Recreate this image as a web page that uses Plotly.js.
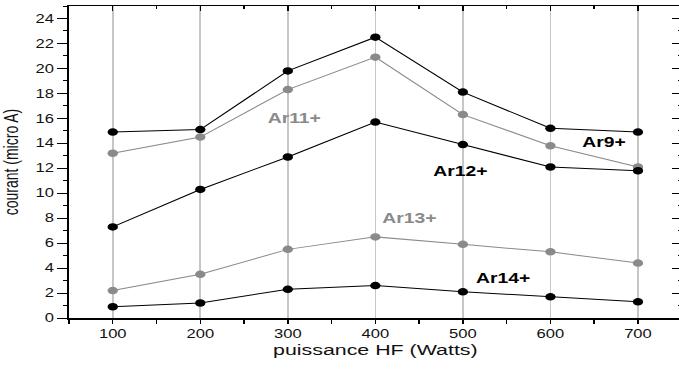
<!DOCTYPE html>
<html>
<head>
<meta charset="utf-8">
<script src="https://cdn.plot.ly/plotly-3.0.1.min.js"></script>
<style>
  html, body { margin: 0; padding: 0; overflow: hidden; background: #fff; }
  /* the chart is laid out narrow and widened horizontally as a whole */
  #chart { width: 506px; height: 370px; transform: scaleX(1.38); transform-origin: 0 0; }
</style>
</head>
<body>
<div id="chart"></div>
<script>
// HF power (W)
const puissance = [100, 200, 300, 400, 500, 600, 700];

// extracted current per charge state (micro A)
const ar9  = [14.9, 15.1, 19.8, 22.5, 18.1, 15.2, 14.9];
const ar11 = [13.2, 14.5, 18.3, 20.9, 16.3, 13.8, 12.1];
const ar12 = [7.3, 10.3, 12.9, 15.7, 13.9, 12.1, 11.8];
const ar13 = [2.2, 3.5, 5.5, 6.5, 5.9, 5.3, 4.4];
const ar14 = [0.9, 1.2, 2.3, 2.6, 2.1, 1.7, 1.3];

const seriesNames = ['Ar9+', 'Ar11+', 'Ar12+', 'Ar13+', 'Ar14+'];
const seriesValues = [ar9, ar11, ar12, ar13, ar14];

const BLACK = '#000000';
const GREY = '#8a8a8a';
const seriesColors = [BLACK, GREY, BLACK, GREY, BLACK];

const traces = seriesValues.map((vals, i) => ({
  type: 'scatter',
  mode: 'lines+markers',
  name: seriesNames[i],
  x: puissance,
  y: vals,
  line: { color: seriesColors[i], width: 1 },
  marker: { color: seriesColors[i], size: 7.5 },
  showlegend: false,
  hoverinfo: 'x+y+name'
}));

// carrier for the mirrored top / right frame axes
traces.push({
  type: 'scatter', mode: 'markers', x: [], y: [],
  xaxis: 'x2', yaxis: 'y2', showlegend: false, hoverinfo: 'skip'
});

const FONT = 'Liberation Sans, Arial, Helvetica, sans-serif';
const X_RANGE = [50, 750];
const Y_RANGE = [0, 25];

// series labels placed next to their curves
const labelSpots = [
  { text: 'Ar9+',  x: 661, y: 14.1, color: BLACK },
  { text: 'Ar11+', x: 307, y: 16.0, color: GREY },
  { text: 'Ar12+', x: 497, y: 11.8, color: BLACK },
  { text: 'Ar13+', x: 439, y: 8.0,  color: GREY },
  { text: 'Ar14+', x: 546, y: 3.2,  color: BLACK }
];

const layout = {
  width: 506,
  height: 370,
  margin: { l: 50, r: 12, t: 6, b: 52 },
  paper_bgcolor: '#ffffff',
  plot_bgcolor: '#ffffff',
  font: { family: FONT, color: '#000' },
  xaxis: {
    range: X_RANGE,
    tick0: 0, dtick: 100,
    ticks: 'outside', ticklen: 4, tickwidth: 1, tickcolor: '#000',
    minor: { dtick: 50, ticks: 'outside', ticklen: 4, tickwidth: 1, tickcolor: '#000', showgrid: false },
    showgrid: true, gridcolor: '#c6c6c6', gridwidth: 1.2,
    zeroline: false,
    showline: true, linecolor: '#000', linewidth: 1.5,
    tickfont: { family: FONT, size: 12, color: '#111' },
    title: { text: 'puissance HF (Watts)', font: { family: FONT, size: 15.5, color: '#111' }, standoff: 3 }
  },
  yaxis: {
    range: Y_RANGE,
    tick0: 0, dtick: 2,
    ticks: 'outside', ticklen: 7, tickwidth: 1, tickcolor: '#000',
    minor: { dtick: 1, ticks: 'outside', ticklen: 3, tickwidth: 1, tickcolor: '#000', showgrid: false },
    showgrid: false, zeroline: false,
    showline: true, linecolor: '#000', linewidth: 1.5,
    tickfont: { family: FONT, size: 12, color: '#111' },
    title: { text: 'courant (micro A)', font: { family: FONT, size: 14, color: '#111' }, standoff: 10 }
  },
  xaxis2: {
    overlaying: 'x', side: 'top', anchor: 'y2',
    range: X_RANGE, tick0: 0, dtick: 100,
    ticks: 'inside', ticklen: 5, tickwidth: 1, tickcolor: '#000',
    minor: { dtick: 50, ticks: 'inside', ticklen: 3, tickwidth: 1, tickcolor: '#000', showgrid: false },
    showticklabels: false, showgrid: false, zeroline: false,
    showline: true, linecolor: '#000', linewidth: 1.5
  },
  yaxis2: {
    overlaying: 'y', side: 'right', anchor: 'x2',
    range: Y_RANGE, tick0: 0, dtick: 2,
    ticks: 'inside', ticklen: 7, tickwidth: 1, tickcolor: '#000',
    minor: { dtick: 1, ticks: 'inside', ticklen: 3, tickwidth: 1, tickcolor: '#000', showgrid: false },
    showticklabels: false, showgrid: false, zeroline: false,
    showline: true, linecolor: '#000', linewidth: 1.5
  },
  annotations: labelSpots.map(s => ({
    x: s.x, y: s.y, xref: 'x', yref: 'y',
    text: '<b>' + s.text + '</b>',
    showarrow: false,
    font: { family: FONT, size: 14, color: s.color }
  }))
};

Plotly.newPlot('chart', traces, layout, { displayModeBar: false, staticPlot: true });
</script>
</body>
</html>
